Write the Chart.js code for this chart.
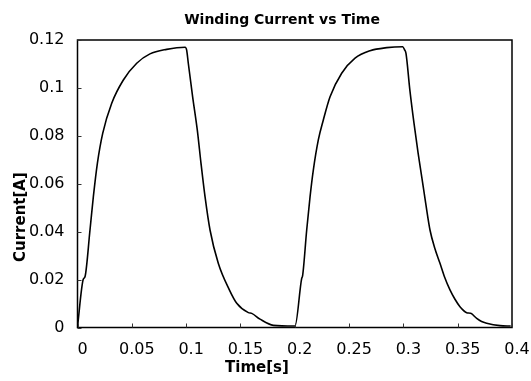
<!DOCTYPE html>
<html>
<head>
<meta charset="utf-8">
<script src="https://cdn.jsdelivr.net/npm/chart.js@4/dist/chart.umd.min.js"></script>
<style>
html,body{margin:0;padding:0;background:#fff;}
#wrap{width:531px;height:381px;}
</style>
</head>
<body>
<div id="wrap"><canvas id="c" width="531" height="381"></canvas></div>
<script>
const chartTitle = 'Winding Current vs Time';
const xAxisTitle = 'Time[s]';
const yAxisTitle = 'Current[A]';
const xTickValues = [0, 0.05, 0.1, 0.15, 0.2, 0.25, 0.3, 0.35, 0.4];
const yTickValues = [0, 0.02, 0.04, 0.06, 0.08, 0.1, 0.12];

const timeS = [
  0, 0.0053, 0.0069, 0.0115, 0.0146, 0.0183, 0.0232, 0.0315, 0.0422, 0.0545, 0.0667, 0.0821, 0.0990,
  0.1005, 0.1020, 0.1060, 0.1103, 0.1137, 0.1174, 0.1220, 0.1296, 0.1398, 0.1466, 0.1573, 0.1604,
  0.1680, 0.1803, 0.1993,
  0.2002, 0.2064, 0.2072, 0.2110, 0.2141, 0.2171, 0.2217, 0.2263, 0.2325, 0.2432, 0.2555, 0.2693,
  0.2847, 0.2994, 0.3010, 0.3024, 0.3060, 0.3098, 0.3135, 0.3169, 0.3205, 0.3245, 0.3290, 0.3337,
  0.3380, 0.3429, 0.3475, 0.3521, 0.3583, 0.3620, 0.3675, 0.3720, 0.3767, 0.3890, 0.3988
];
const currentA = [
  0.0003, 0.0201, 0.0212, 0.0407, 0.0546, 0.0685, 0.0810, 0.0936, 0.1033, 0.1103, 0.1142, 0.1161, 0.1170,
  0.1158, 0.1103, 0.0963, 0.0824, 0.0685, 0.0546, 0.0407, 0.0268, 0.0157, 0.0101, 0.0062, 0.0059,
  0.0035, 0.0009, 0.0006,
  0.0006, 0.0205, 0.0215, 0.0407, 0.0546, 0.0657, 0.0783, 0.0866, 0.0963, 0.1061, 0.1124, 0.1155,
  0.1168, 0.1172, 0.1160, 0.1144, 0.0990, 0.0852, 0.0730, 0.0629, 0.0520, 0.0407, 0.0330, 0.0268,
  0.0210, 0.0157, 0.0118, 0.0087, 0.0062, 0.0059, 0.0038, 0.0025, 0.0018, 0.0008, 0.0006
];

const points = timeS.map((t, i) => ({ x: t, y: currentA[i] }));

const framePlugin = {
  id: 'frame',
  afterDatasetsDraw(chart) {
    const { ctx, chartArea: a, scales: { x, y } } = chart;
    ctx.save();
    ctx.strokeStyle = '#000';
    ctx.lineWidth = 1.5;
    ctx.strokeRect(a.left, a.top, a.right - a.left, a.bottom - a.top);
    ctx.lineWidth = 1;
    ctx.strokeStyle = '#333';
    ctx.beginPath();
    xTickValues.forEach(v => {
      const px = Math.round(x.getPixelForValue(v)) + 0.5;
      ctx.moveTo(px, a.bottom); ctx.lineTo(px, a.bottom - 4);
    });
    yTickValues.forEach(v => {
      const py = Math.round(y.getPixelForValue(v)) + 0.5;
      ctx.moveTo(a.left, py); ctx.lineTo(a.left + 4, py);
    });
    ctx.stroke();

    ctx.fillStyle = '#000';
    ctx.textAlign = 'center';
    ctx.textBaseline = 'middle';
    ctx.font = 'bold 14px "DejaVu Sans"';
    ctx.fillText(chartTitle, a.left + (a.right - a.left) * 0.4707, 20);
    ctx.font = 'bold 15px "DejaVu Sans"';
    ctx.fillText(xAxisTitle, a.left + (a.right - a.left) * 0.413, 368);
    ctx.translate(21, a.top + (a.bottom - a.top) * 0.616);
    ctx.rotate(-Math.PI / 2);
    ctx.fillText(yAxisTitle, 0, 0);
    ctx.restore();
  }
};

new Chart(document.getElementById('c'), {
  type: 'scatter',
  data: {
    datasets: [{
      label: 'Current',
      data: points,
      showLine: true,
      borderColor: '#000',
      borderWidth: 1.6,
      pointRadius: 0,
      cubicInterpolationMode: 'monotone',
      fill: false
    }]
  },
  options: {
    responsive: false,
    animation: false,
    devicePixelRatio: 1,
    layout: { padding: { top: 40, right: 19, bottom: 0, left: 0 } },
    plugins: {
      legend: { display: false },
      title: { display: false },
      tooltip: { enabled: false }
    },
    scales: {
      x: {
        type: 'linear',
        min: 0,
        max: 0.4,
        afterBuildTicks: s => { s.ticks = xTickValues.map(v => ({ value: v })); },
        afterFit: s => { s.height = 53.5; },
        grid: { display: false },
        border: { display: false },
        ticks: {
          color: '#000',
          font: { family: 'DejaVu Sans', size: 16 },
          padding: 5,
          labelOffset: 5,
          maxRotation: 0,
          autoSkip: false,
          callback: v => String(v)
        }
      },
      y: {
        type: 'linear',
        min: 0,
        max: 0.12,
        afterBuildTicks: s => { s.ticks = yTickValues.map(v => ({ value: v })); },
        afterFit: s => { s.width = 77.5; },
        grid: { display: false },
        border: { display: false },
        ticks: {
          color: '#000',
          font: { family: 'DejaVu Sans', size: 16 },
          padding: 5,
          autoSkip: false,
          callback: v => String(v)
        }
      }
    }
  },
  plugins: [framePlugin]
});
</script>
</body>
</html>
